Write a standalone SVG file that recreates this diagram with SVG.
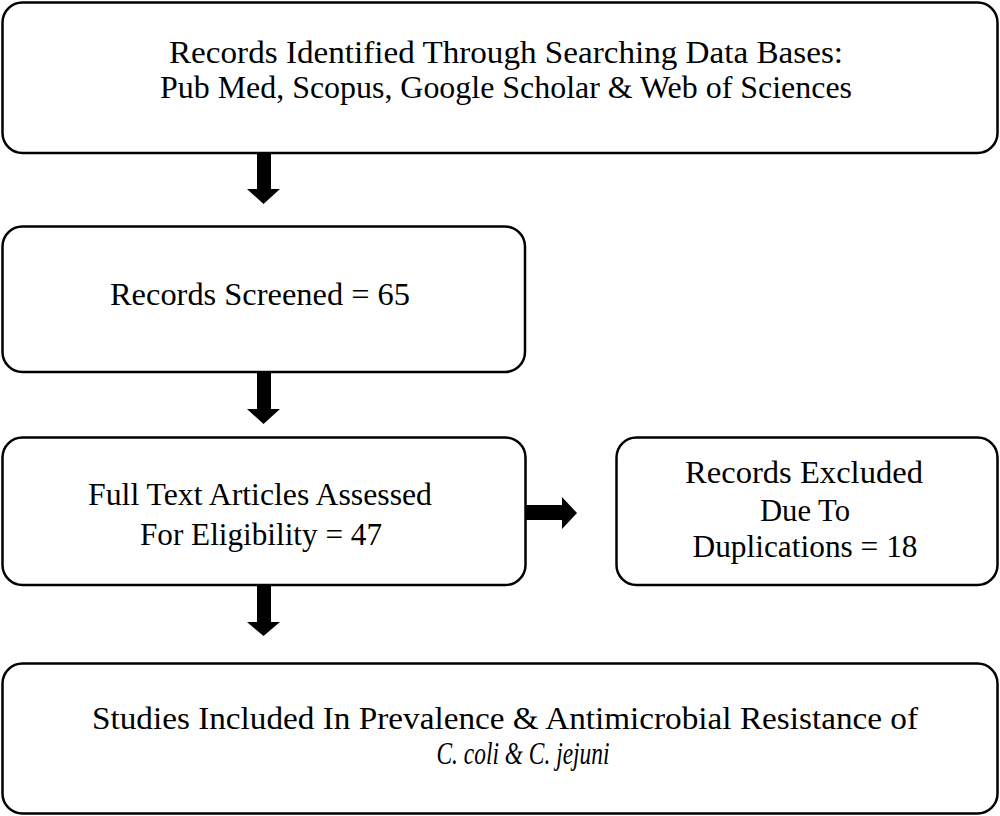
<svg xmlns="http://www.w3.org/2000/svg" width="1000" height="816" viewBox="0 0 1000 816">
<style>
.box{fill:#fff;stroke:#000;stroke-width:2.5}
.t{font-family:"Liberation Serif","DejaVu Serif",serif;font-size:31px;fill:#000;text-anchor:middle}
.i{font-style:italic}
.arr{fill:#000;stroke:none}
</style>
<rect width="1000" height="816" fill="#fff"/>
<g id="connectors">
<path class="arr" d="M257,153 H271 V189 H280 L263.5,204 L247,189 H257 Z"/>
<path class="arr" d="M257,372 H271 V409 H280 L263.5,424 L247,409 H257 Z"/>
<path class="arr" d="M257,585 H271 V622 H280 L263.5,636 L247,622 H257 Z"/>
<path class="arr" d="M526,505 H562 V497 L577,513 L562,529 V520 H526 Z"/>
</g>
<g id="identified">
<rect class="box" x="2.5" y="2.5" width="995" height="150.5" rx="20"/>
<text class="t" x="506" y="63" textLength="674" lengthAdjust="spacingAndGlyphs">Records Identified Through Searching Data Bases:</text>
<text class="t" x="506" y="98" textLength="692" lengthAdjust="spacingAndGlyphs">Pub Med, Scopus, Google Scholar &amp; Web of Sciences</text>
</g>
<g id="screened">
<rect class="box" x="2.5" y="226.5" width="522.5" height="145.5" rx="20"/>
<text class="t" x="260" y="305" textLength="300" lengthAdjust="spacingAndGlyphs">Records Screened = 65</text>
</g>
<g id="assessed">
<rect class="box" x="2.5" y="437.5" width="523" height="147.5" rx="20"/>
<text class="t" x="260" y="505" textLength="344" lengthAdjust="spacingAndGlyphs">Full Text Articles Assessed</text>
<text class="t" x="261" y="545" textLength="242" lengthAdjust="spacingAndGlyphs">For Eligibility = 47</text>
</g>
<g id="excluded">
<rect class="box" x="616.5" y="437.5" width="381" height="147.5" rx="20"/>
<text class="t" x="804" y="483" textLength="238" lengthAdjust="spacingAndGlyphs">Records Excluded</text>
<text class="t" x="805" y="521" textLength="90" lengthAdjust="spacingAndGlyphs">Due To</text>
<text class="t" x="805" y="557" textLength="225" lengthAdjust="spacingAndGlyphs">Duplications = 18</text>
</g>
<g id="included">
<rect class="box" x="2.5" y="663.5" width="995" height="150" rx="20"/>
<text class="t" x="505" y="729" textLength="826" lengthAdjust="spacingAndGlyphs">Studies Included In Prevalence &amp; Antimicrobial Resistance of</text>
<text class="t i" x="523" y="764" textLength="173" lengthAdjust="spacingAndGlyphs">C. coli &amp; C. jejuni</text>
</g>
</svg>
